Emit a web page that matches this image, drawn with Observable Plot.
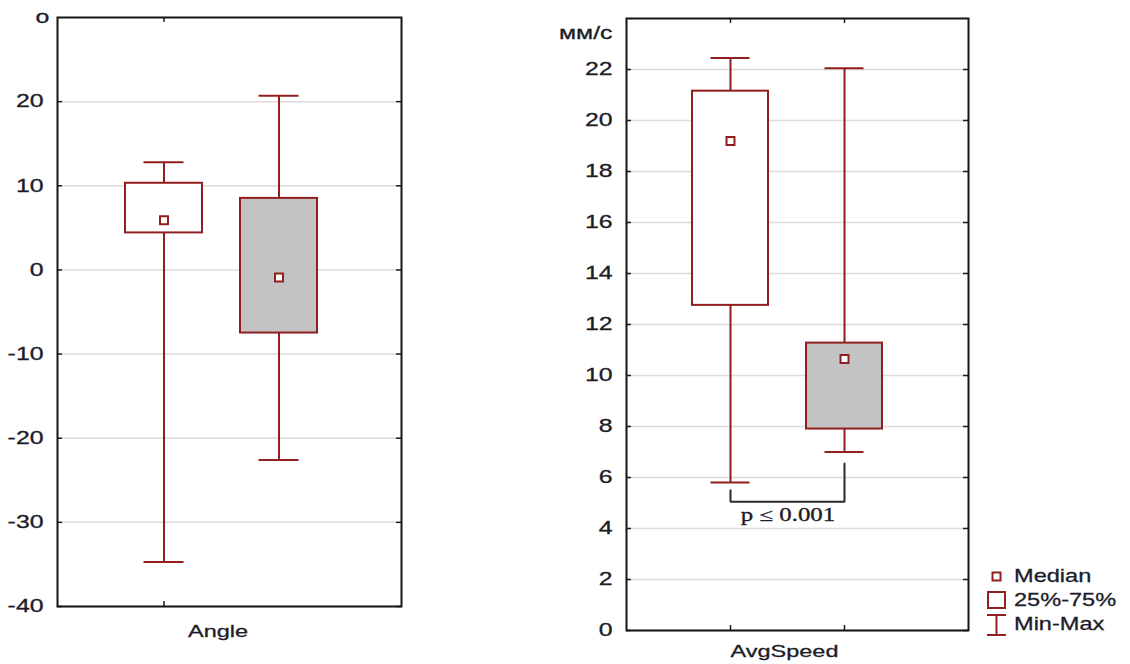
<!DOCTYPE html>
<html>
<head>
<meta charset="utf-8">
<script src="https://cdn.jsdelivr.net/npm/d3@7"></script>
<script src="https://cdn.jsdelivr.net/npm/@observablehq/plot@0.6"></script>
<style>
  html, body { margin: 0; padding: 0; background: #fff; }
  #chart { position: relative; width: 1130px; height: 664px; overflow: hidden; background: #fff; }
  .panel { position: absolute; top: 0; }
  #chart text { stroke: #1c1c28; stroke-width: 0.3px; paint-order: stroke; }
</style>
</head>
<body>
<div id="chart">
  <div id="angle" class="panel" style="left:0px;width:420px"></div>
  <div id="speed" class="panel" style="left:540px;width:590px"></div>
  <div id="legend" class="panel" style="left:980px;top:560px;width:150px"></div>
</div>
<script>
// Two compared groups (one box each per variable)
const groups = ["group 1", "group 2"];

// Angle, degrees
const angleMin    = [-34.7, -22.6];
const angleQ1     = [4.4, -7.5];
const angleMedian = [5.9, -0.9];
const angleQ3     = [10.3, 8.5];
const angleMax    = [12.8, 20.7];
const angleTicks  = [-40, -30, -20, -10, 0, 10, 20];

// AvgSpeed, mm/s
const speedMin    = [5.8, 7.0];
const speedQ1     = [12.75, 7.9];
const speedMedian = [19.2, 10.65];
const speedQ3     = [21.15, 11.27];
const speedMax    = [22.45, 22.05];
const speedTicks  = [0, 2, 4, 6, 8, 10, 12, 14, 16, 18, 20, 22];

// Significance bracket between the two AvgSpeed groups
const bracketLevel = 5.05;
const bracketEnds  = [5.5, 6.55];
const bracketLabel = "p \u2264 0.001";

const legendLabels = ["Median", "25%-75%", "Min-Max"];

const FONT = "'Liberation Sans', Arial, sans-serif";
const INK = "#1c1c28";
const RED = "#911f1f";
const BOX_GRAY = "#c3c3c3";
const GRID = "#dcdcdc";

function rowsOf(min, q1, median, q3, max) {
  return groups.map((group, i) => ({group, min: min[i], q1: q1[i], median: median[i], q3: q3[i], max: max[i]}));
}

function boxPanel({rows, yDomain, yTicks, xTicks, unit, unitDx, unitDy, unitAnchor, variable, labelDx, labelDy,
                   width, height, margin, align, extra = []}) {
  const [mt, mr, mb, ml] = margin;
  const fw = width - ml - mr, fh = height - mt - mb;
  return Plot.plot({
    width, height,
    marginTop: mt, marginRight: mr, marginBottom: mb, marginLeft: ml,
    style: {fontFamily: FONT, fontSize: "18px", color: INK, background: "white", overflow: "visible"},
    x: {type: "band", domain: groups, paddingInner: 0.33, paddingOuter: 0.66, align, axis: null},
    y: {domain: yDomain},
    color: {domain: groups, range: ["white", BOX_GRAY]},
    marks: [
      Plot.gridY(yTicks, {stroke: GRID, strokeOpacity: 1, strokeWidth: 1.5}),
      // short inward ticks on both sides of the frame
      Plot.tickY(yTicks, {y: d => d, stroke: INK, strokeWidth: 1.5, insetRight: fw - 5}),
      Plot.tickY(yTicks, {y: d => d, stroke: INK, strokeWidth: 1.5, insetLeft: fw - 5}),
      Plot.tickX(xTicks, {x: d => d, stroke: INK, strokeWidth: 1.5, insetBottom: fh - 5}),
      Plot.tickX(xTicks, {x: d => d, stroke: INK, strokeWidth: 1.5, insetTop: fh - 5}),
      // whiskers and caps (min-max)
      Plot.ruleX(rows, {x: "group", y1: "min", y2: "max", stroke: RED, strokeWidth: 2}),
      Plot.tickY(rows, {x: "group", y: "min", stroke: RED, strokeWidth: 2, insetLeft: 18.5, insetRight: 18.5}),
      Plot.tickY(rows, {x: "group", y: "max", stroke: RED, strokeWidth: 2, insetLeft: 18.5, insetRight: 18.5}),
      // interquartile boxes
      Plot.barY(rows, {x: "group", y1: "q1", y2: "q3", fill: "group", stroke: RED, strokeWidth: 2}),
      // medians
      Plot.dot(rows, {x: "group", y: "median", symbol: "square", r: 4.5, fill: "white", stroke: RED, strokeWidth: 2}),
      ...extra,
      Plot.frame({stroke: "#151515", strokeWidth: 2}),
      Plot.axisY(yTicks, {tickSize: 0, tickPadding: 14, label: null, fontSize: 18, tickFormat: d => String(d)}),
      Plot.text([unit], {text: d => d, frameAnchor: "top-left", dx: unitDx, dy: unitDy,
                         textAnchor: unitAnchor, lineAnchor: "middle", fontSize: 18, fill: INK}),
      Plot.text([variable], {text: d => d, frameAnchor: "bottom", dx: labelDx, dy: labelDy,
                             lineAnchor: "middle", fontSize: 17, fill: INK})
    ]
  });
}

// Glyphs in this figure are drawn wide; widen every label by a constant factor.
function widenText(svg, k) {
  svg.querySelectorAll("text").forEach(t => {
    const w = t.getComputedTextLength();
    if (w > 0) {
      t.setAttribute("textLength", (w * k).toFixed(2));
      t.setAttribute("lengthAdjust", "spacingAndGlyphs");
    }
  });
}

const angleRows = rowsOf(angleMin, angleQ1, angleMedian, angleQ3, angleMax);
const speedRows = rowsOf(speedMin, speedQ1, speedMedian, speedQ3, speedMax);

const angleChart = boxPanel({
  rows: angleRows, yDomain: [-40, 30], yTicks: angleTicks, xTicks: [groups[0]],
  unit: "o", unitDx: -15, unitDy: 0, unitAnchor: "middle",
  variable: "Angle", labelDx: -11.5, labelDy: 25,
  width: 420, height: 664, margin: [17, 19, 58, 57], align: 0.445
});

const bracketPoints = [
  {group: groups[0], y: bracketEnds[0]},
  {group: groups[0], y: bracketLevel},
  {group: groups[1], y: bracketLevel},
  {group: groups[1], y: bracketEnds[1]}
];

const speedChart = boxPanel({
  rows: speedRows, yDomain: [0, 24], yTicks: speedTicks, xTicks: groups,
  unit: "мм/с", unitDx: -14, unitDy: 15, unitAnchor: "end",
  variable: "AvgSpeed", labelDx: -13, labelDy: 21,
  width: 590, height: 664, margin: [18, 162, 34, 86], align: 0.437,
  extra: [
    Plot.line(bracketPoints, {x: "group", y: "y", stroke: "#2a2a2a", strokeWidth: 2, strokeLinejoin: "miter"}),
    Plot.text([bracketLabel], {text: d => d, x: () => groups[0], y: () => bracketLevel, dx: 57.5, dy: 14,
                               lineAnchor: "middle", fontFamily: "'Liberation Serif', 'Times New Roman', serif",
                               fontSize: 18, fill: INK})
  ]
});

document.getElementById("angle").appendChild(angleChart);
document.getElementById("speed").appendChild(speedChart);
widenText(angleChart, 1.38);
widenText(speedChart, 1.38);

// Legend: median marker, quartile box, min-max whisker
function drawLegend(el) {
  const svg = d3.create("svg")
    .attr("width", 150).attr("height", 90)
    .style("overflow", "visible")
    .style("font-family", FONT).style("font-size", "19px");
  const g = svg.append("g").attr("fill", "none").attr("stroke", RED).attr("stroke-width", 2);
  g.append("rect").attr("x", 12.5).attr("y", 12.5).attr("width", 8).attr("height", 8).attr("fill", "white");
  g.append("rect").attr("x", 8).attr("y", 32).attr("width", 17).attr("height", 16).attr("fill", "white");
  g.append("line").attr("x1", 16.5).attr("x2", 16.5).attr("y1", 55).attr("y2", 75);
  g.append("line").attr("x1", 7).attr("x2", 26).attr("y1", 55).attr("y2", 55);
  g.append("line").attr("x1", 7).attr("x2", 26).attr("y1", 75).attr("y2", 75);
  svg.append("g").attr("fill", INK)
    .selectAll("text").data(legendLabels).join("text")
    .attr("x", 34).attr("y", (d, i) => 15 + i * 24)
    .attr("dy", "0.36em")
    .text(d => d);
  el.appendChild(svg.node());
  widenText(svg.node(), 1.24);
}
drawLegend(document.getElementById("legend"));
</script>
</body>
</html>
